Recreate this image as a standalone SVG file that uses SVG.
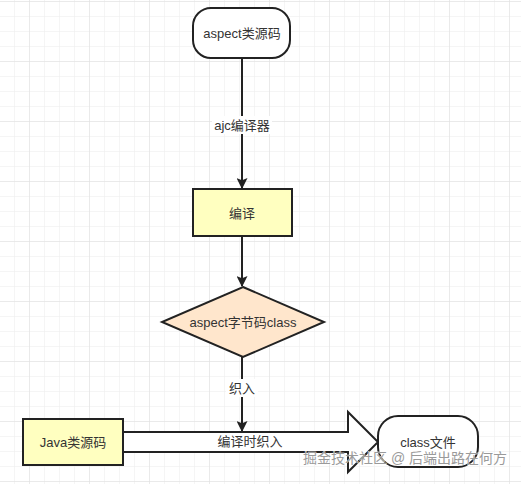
<svg xmlns="http://www.w3.org/2000/svg" width="521" height="484" viewBox="0 0 521 484">
<defs>
<pattern id="minor" width="15" height="15" patternUnits="userSpaceOnUse" x="14" y="1">
<path d="M0 0H15M0 0V15" fill="none" stroke="#ececec" stroke-width="1"/>
</pattern>
<pattern id="major" width="60" height="60" patternUnits="userSpaceOnUse" x="29" y="1">
<path d="M0 0H60M0 0V60" fill="none" stroke="#e0e0e0" stroke-width="1"/>
</pattern>
<marker id="arr" viewBox="0 0 10 10" refX="9" refY="5" markerWidth="6" markerHeight="5.5" orient="auto" markerUnits="strokeWidth">
<path d="M0 0L10 5L0 10L2 5Z" fill="#222"/>
</marker>
</defs>
<style>
.t{font-family:"Liberation Sans","Noto Sans CJK SC",sans-serif;font-size:13px;fill:#333;text-anchor:middle;dominant-baseline:central}
.n{stroke:#222;stroke-width:2}
.c{stroke:#222;stroke-width:2;fill:none}
</style>
<rect width="521" height="484" fill="#fff"/>
<rect width="521" height="484" fill="url(#minor)"/>
<rect width="521" height="484" fill="url(#major)"/>

<g id="connectors">
<path class="c" d="M242 58V188" marker-end="url(#arr)"/>
<rect x="212" y="116" width="60" height="18" fill="#fff"/>
<text class="t" x="242" y="125">ajc编译器</text>
<path class="c" d="M242 236V286" marker-end="url(#arr)"/>
<path class="c" d="M242 357V431" marker-end="url(#arr)"/>
<rect x="226" y="379" width="32" height="18" fill="#fff"/>
<text class="t" x="242" y="388">织入</text>
</g>

<g id="weave-arrow">
<path class="n" fill="#fff" d="M123 432H348V412L378 442L348 472V452H123Z"/>
<text class="t" x="250" y="441">编译时织入</text>
</g>

<g id="aspect-src">
<rect class="n" x="193" y="8" width="97" height="50" rx="18" fill="#fff"/>
<text class="t" x="242" y="33">aspect类源码</text>
</g>

<g id="compile">
<rect class="n" x="193" y="189" width="99" height="47" fill="#ffffc0"/>
<text class="t" x="242" y="213">编译</text>
</g>

<g id="aspect-class">
<path class="n" d="M243 287L324 322L243 357L162 322Z" fill="#ffe6cc"/>
<text class="t" x="243" y="322">aspect字节码class</text>
</g>

<g id="java-src">
<rect class="n" x="23" y="419" width="100" height="46" fill="#ffffc0"/>
<text class="t" x="73" y="442">Java类源码</text>
</g>

<g id="class-file">
<rect class="n" x="378" y="416" width="100" height="51" rx="20" fill="#fff"/>
<text class="t" x="428" y="442">class文件</text>
</g>

<text x="507" y="463" font-family="'Liberation Sans','Noto Sans CJK SC',sans-serif" font-size="14" fill="#9a9a9a" stroke="#fff" stroke-width="0.5" paint-order="stroke" text-anchor="end">掘金技术社区 @ 后端出路在何方</text>
</svg>
